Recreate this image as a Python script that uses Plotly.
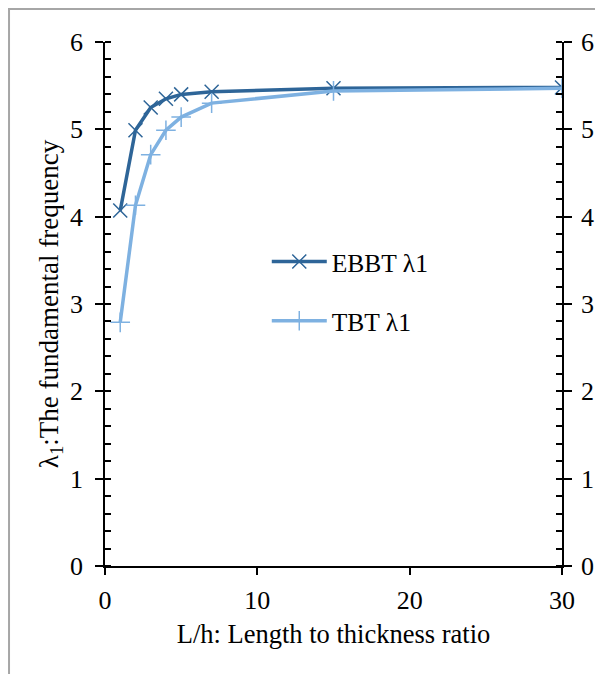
import plotly.graph_objects as go

# L/h ratio and fundamental frequency
ratio = [1, 2, 3, 4, 5, 7, 15, 30]
ebbt = [4.07, 4.99, 5.25, 5.35, 5.40, 5.43, 5.47, 5.48]
tbt = [2.79, 4.13, 4.71, 4.99, 5.14, 5.30, 5.44, 5.47]

FONT = "Liberation Serif, Times New Roman, serif"
dark = '#2E6598'
light = '#7EB1E1'

fig = go.Figure()
fig.add_trace(go.Scatter(x=ratio, y=ebbt, mode='lines+markers', name='EBBT λ1',
                         legendgroup='a',
                         line=dict(color=dark, width=3.5),
                         marker=dict(symbol='x-thin', size=14,
                                     line=dict(color=dark, width=1.5))))
fig.add_trace(go.Scatter(x=ratio, y=tbt, mode='lines+markers', name='TBT λ1',
                         legendgroup='b',
                         line=dict(color=light, width=3.5),
                         marker=dict(symbol='cross-thin', size=14,
                                     line=dict(color=light, width=1.5))))
# invisible copy so the right-hand axis gets its labels drawn
fig.add_trace(go.Scatter(x=ratio, y=ebbt, yaxis='y2', mode='markers',
                         marker=dict(opacity=0), showlegend=False,
                         hoverinfo='skip'))

ax_common = dict(range=[0, 6], showgrid=False, zeroline=False, color='black',
                 automargin=False,
                 tickfont=dict(family=FONT, size=26, color='black'))

# page body has an 8px margin, so the figure is a bit smaller than the window
fig.update_layout(
    width=587, height=666,
    margin=dict(l=97, r=33, t=34, b=108),
    paper_bgcolor='white', plot_bgcolor='white',
    font=dict(family=FONT, color='black'),
    showlegend=True,
    legend=dict(x=0.354, y=0.625, xanchor='left', yanchor='top',
                bgcolor='rgba(0,0,0,0)', font=dict(family=FONT, size=25.5),
                itemwidth=55, tracegroupgap=23),
    xaxis=dict(range=[0, 30], dtick=10, showgrid=False, zeroline=False,
               automargin=False,
               showline=True, linecolor='black', linewidth=1.5,
               ticks='outside', ticklen=7, tickwidth=1.5, tickcolor='black',
               ticklabelstandoff=3,
               tickfont=dict(family=FONT, size=26, color='black'),
               title=dict(text='L/h: Length to thickness ratio',
                          font=dict(family=FONT, size=26.5), standoff=10)),
    yaxis=dict(**ax_common, dtick=1, showline=True, linecolor='black', linewidth=1.5,
               ticks='outside', ticklen=8, tickwidth=1.5, tickcolor='black',
               ticklabelstandoff=7,
               minor=dict(ticks='inside', dtick=0.2, ticklen=6, tickwidth=1.5,
                          tickcolor='black'),
               title=dict(text='λ<sub>1</sub>:The fundamental frequency',
                          font=dict(family=FONT, size=27), standoff=4)),
    yaxis2=dict(**ax_common, overlaying='y', side='right', anchor='x', dtick=1,
                showline=True, linecolor='black', linewidth=1.5,
                ticks='outside', ticklen=8, tickwidth=1.5, tickcolor='black',
                ticklabelstandoff=4,
                minor=dict(ticks='inside', dtick=0.2, ticklen=6, tickwidth=1.5,
                           tickcolor='black')),
    yaxis3=dict(range=[0, 6], overlaying='y', side='left', anchor='x', dtick=1,
                showgrid=False, zeroline=False, showticklabels=False,
                automargin=False,
                ticks='inside', ticklen=6, tickwidth=1.5, tickcolor='black'),
    yaxis4=dict(range=[0, 6], overlaying='y', side='right', anchor='x', dtick=1,
                showgrid=False, zeroline=False, showticklabels=False,
                automargin=False,
                ticks='inside', ticklen=6, tickwidth=1.5, tickcolor='black'),
)

# outer frame of the figure
fig.add_shape(type='rect', xref='paper', yref='paper', x0=-0.210, x1=1.3,
              y0=-0.5, y1=1.063, line=dict(color='#A6A6A6', width=2), layer='below')

fig.write_html("out.html")
